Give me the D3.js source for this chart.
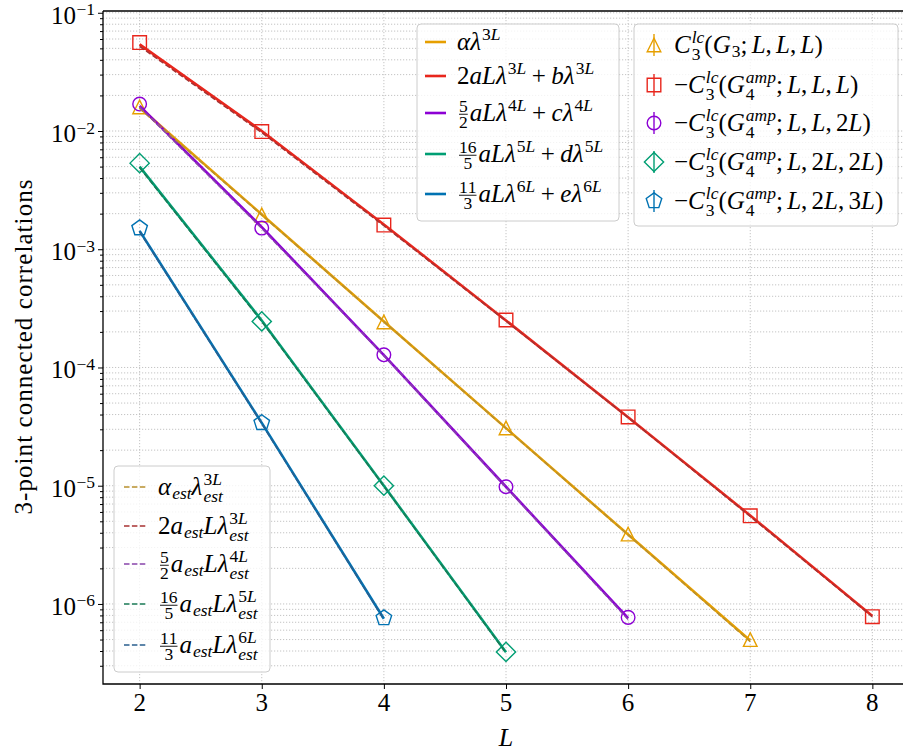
<!DOCTYPE html>
<html><head><meta charset="utf-8"><title>3-point connected correlations</title>
<script src="https://d3js.org/d3.v7.min.js"></script>
<style>
body { margin: 0; background: #fff; }
svg text { font-family: "Liberation Serif", serif; fill: #000; }
</style>
</head>
<body>
<svg id="chart" width="903" height="755"></svg>
<script>
// ---- data ----
const xTicks = [2, 3, 4, 5, 6, 7, 8];
const yTicks = [1e-1, 1e-2, 1e-3, 1e-4, 1e-5, 1e-6];
const yTickLabels = ["10^{-1}", "10^{-2}", "10^{-3}", "10^{-4}", "10^{-5}", "10^{-6}"];

const L_G3 = [2, 3, 4, 5, 6, 7];
const corr_G3 = [1.6e-2, 1.95e-3, 2.43e-4, 3.08e-5, 3.9e-6, 5.0e-7];
const fit_G3 = [1.58e-2, 1.97e-3, 2.45e-4, 3.07e-5, 3.86e-6, 4.9e-7];
const est_G3 = [1.55e-2, 1.95e-3, 2.44e-4, 3.05e-5, 3.84e-6, 4.8e-7];

const L_LLL = [2, 3, 4, 5, 6, 7, 8];
const corr_LLL = [5.6e-2, 9.9e-3, 1.6e-3, 2.52e-4, 3.82e-5, 5.56e-6, 7.8e-7];
const fit_LLL = [5.4e-2, 1.0e-2, 1.62e-3, 2.5e-4, 3.8e-5, 5.6e-6, 7.9e-7];
const est_LLL = [5.2e-2, 9.7e-3, 1.58e-3, 2.47e-4, 3.77e-5, 5.5e-6, 7.8e-7];

const L_LL2L = [2, 3, 4, 5, 6];
const corr_LL2L = [1.69e-2, 1.51e-3, 1.28e-4, 9.8e-6, 7.7e-7];
const fit_LL2L = [1.63e-2, 1.54e-3, 1.27e-4, 9.8e-6, 7.6e-7];
const est_LL2L = [1.6e-2, 1.5e-3, 1.26e-4, 9.7e-6, 7.4e-7];

const L_L2L2L = [2, 3, 4, 5];
const corr_L2L2L = [5.35e-3, 2.45e-4, 1.0e-5, 3.93e-7];
const fit_L2L2L = [5.0e-3, 2.5e-4, 1.0e-5, 3.9e-7];
const est_L2L2L = [4.9e-3, 2.45e-4, 9.9e-6, 3.85e-7];

const L_L2L3L = [2, 3, 4];
const corr_L2L3L = [1.51e-3, 3.4e-5, 7.6e-7];
const fit_L2L3L = [1.43e-3, 3.4e-5, 7.5e-7];
const est_L2L3L = [1.41e-3, 3.35e-5, 7.4e-7];

const fitLabels = [
  "\u03b1\u03bb^{3L}",
  "2aL\u03bb^{3L}+b\u03bb^{3L}",
  "\\frac{5}{2}aL\u03bb^{4L}+c\u03bb^{4L}",
  "\\frac{16}{5}aL\u03bb^{5L}+d\u03bb^{5L}",
  "\\frac{11}{3}aL\u03bb^{6L}+e\u03bb^{6L}"
];
const dataLabels = [
  "C^{lc}_{3}(G_{3}; L, L, L)",
  "-C^{lc}_{3}(G^{amp}_{4}; L, L, L)",
  "-C^{lc}_{3}(G^{amp}_{4}; L, L, 2L)",
  "-C^{lc}_{3}(G^{amp}_{4}; L, 2L, 2L)",
  "-C^{lc}_{3}(G^{amp}_{4}; L, 2L, 3L)"
];
const estLabels = [
  "\u03b1_{est}\u03bb^{3L}_{est}",
  "2a_{est}L\u03bb^{3L}_{est}",
  "\\frac{5}{2}a_{est}L\u03bb^{4L}_{est}",
  "\\frac{16}{5}a_{est}L\u03bb^{5L}_{est}",
  "\\frac{11}{3}a_{est}L\u03bb^{6L}_{est}"
];

const series = [
  {L: L_G3, v: corr_G3, fit: fit_G3, est: est_G3, color: "#E69F00", estColor: "#b8902e", marker: "triangle"},
  {L: L_LLL, v: corr_LLL, fit: fit_LLL, est: est_LLL, color: "#e8261c", estColor: "#a83232", marker: "square"},
  {L: L_LL2L, v: corr_LL2L, fit: fit_LL2L, est: est_LL2L, color: "#8c00d4", estColor: "#8844aa", marker: "circle"},
  {L: L_L2L2L, v: corr_L2L2L, fit: fit_L2L2L, est: est_L2L2L, color: "#009E73", estColor: "#1a7a55", marker: "diamond"},
  {L: L_L2L3L, v: corr_L2L3L, fit: fit_L2L3L, est: est_L2L3L, color: "#0072B2", estColor: "#2a5f8f", marker: "pentagon"}
];

// ---- layout ----
const svg = d3.select("#chart");
const plotLeft = 103, plotRight = 909, plotTop = 11, plotBottom = 684;

const x = d3.scaleLinear().domain([1.7, 8.3]).range([plotLeft, plotRight]);
const y = d3.scaleLog().domain([Math.pow(10, -6.677), Math.pow(10, -0.985)]).range([plotBottom, plotTop]);

const minorTicks = [];
for (let e = -7; e <= -1; e++) {
  for (let k = 2; k <= 9; k++) {
    const v = k * Math.pow(10, e);
    if (v > y.domain()[0] && v < y.domain()[1]) minorTicks.push(v);
  }
}

svg.append("clipPath").attr("id", "plot-clip")
  .append("rect").attr("x", plotLeft).attr("y", plotTop)
  .attr("width", plotRight - plotLeft).attr("height", plotBottom - plotTop);

// grid
const grid = svg.append("g").attr("clip-path", "url(#plot-clip)")
  .attr("stroke", "#bdbdbd").attr("stroke-width", 0.9).attr("stroke-dasharray", "1.2,1.8");
grid.selectAll(".hg").data(yTicks.concat(minorTicks)).join("line")
  .attr("x1", plotLeft).attr("x2", plotRight).attr("y1", d => y(d)).attr("y2", d => y(d));
grid.selectAll(".vg").data(xTicks).join("line")
  .attr("y1", plotTop).attr("y2", plotBottom).attr("x1", d => x(d)).attr("x2", d => x(d));

// ---- tiny TeX-ish text layout (one <text> per label, tspans inside) ----
function parseTex(s) {
  let i = 0;
  const out = [];
  function readGroup() {
    if (s[i] === "{") {
      let depth = 1, j = i + 1;
      while (depth) { if (s[j] === "{") depth++; else if (s[j] === "}") depth--; j++; }
      const g = s.slice(i + 1, j - 1);
      i = j;
      return g;
    }
    return s[i++];
  }
  while (i < s.length) {
    const c = s[i];
    if (s.startsWith("\\frac", i)) {
      i += 5;
      const n = readGroup(), d = readGroup();
      out.push({type: "frac", num: n, den: d});
    } else if (c === "^" || c === "_") {
      i++;
      const g = readGroup();
      out[out.length - 1][c === "^" ? "sup" : "sub"] = g;
    } else if (c === " ") {
      i++;
    } else if (c === "+" || c === "-" || c === "=") {
      i++;
      out.push({type: out.length ? "op" : "sym", ch: c === "-" ? "\u2212" : c, italic: false});
    } else if (c === "," || c === ";") {
      i++;
      out.push({type: "punct", ch: c});
    } else {
      i++;
      out.push({type: "sym", ch: c, italic: /[A-Za-z\u0370-\u03ff]/.test(c)});
    }
  }
  return out;
}

function span(ctx, str, x0, y0, size, italic) {
  const t = ctx.t.append("tspan").attr("x", x0).attr("y", y0)
    .attr("font-size", size).attr("font-style", italic ? "italic" : "normal").text(str);
  return t.node().getComputedTextLength();
}

function measureSeq(s, size) {
  const g = svg.append("g");
  const ctx = {g: g, t: g.append("text"), raise: 0.42};
  const w = drawSeq(ctx, s, 0, 0, size, true);
  g.remove();
  return w;
}

function drawSeq(ctx, s, x0, y0, size, script) {
  let cx = x0;
  parseTex(s).forEach(a => { cx += drawAtom(ctx, a, cx, y0, size, script); });
  return cx - x0;
}

function drawAtom(ctx, a, x0, y0, size, script) {
  if (a.type === "frac") {
    const fs = size * 0.7, pad = size * 0.08;
    const nw = measureSeq(a.num, fs), dw = measureSeq(a.den, fs);
    const w = Math.max(nw, dw);
    const barY = y0 - size * 0.27;
    drawSeq(ctx, a.num, x0 + pad + (w - nw) / 2, barY - size * 0.09, fs, true);
    drawSeq(ctx, a.den, x0 + pad + (w - dw) / 2, barY + size * 0.07 + fs * 0.66, fs, true);
    ctx.g.append("line").attr("x1", x0 + pad).attr("x2", x0 + pad + w)
      .attr("y1", barY).attr("y2", barY).attr("stroke", "#000").attr("stroke-width", 0.9);
    return w + 2 * pad;
  }
  if (a.type === "op") {
    const pad = script ? 0 : size * 0.22;
    return span(ctx, a.ch, x0 + pad, y0, size, false) + 2 * pad;
  }
  if (a.type === "punct") {
    return span(ctx, a.ch, x0, y0, size, false) + (script ? 0 : size * 0.17);
  }
  const w = span(ctx, a.ch, x0, y0, size, a.italic);
  if (!a.sup && !a.sub) return w;
  const ss = size * 0.7;
  const sx = x0 + w + (a.italic ? size * 0.04 : size * 0.02);
  let supW = 0, subW = 0;
  if (a.sup) supW = drawSeq(ctx, a.sup, sx, y0 - size * ctx.raise, ss, true);
  if (a.sub) subW = drawSeq(ctx, a.sub, sx, y0 + size * (a.sup ? 0.27 : 0.17), ss, true);
  return (sx - x0) + Math.max(supW, subW);
}

function drawTex(parent, s, x0, y0, size, anchor, raise) {
  const g = parent.append("g");
  const ctx = {g: g, t: g.append("text"), raise: raise || 0.42};
  const w = drawSeq(ctx, s, 0, 0, size, false);
  const dx = anchor === "end" ? -w : anchor === "middle" ? -w / 2 : 0;
  g.attr("transform", `translate(${x0 + dx},${y0})`);
  return g;
}

// ---- markers ----
function markerPath(type, r) {
  if (type === "square") return `M${-r},${-r}H${r}V${r}H${-r}Z`;
  if (type === "triangle") return `M0,${-r}L${r},${r}L${-r},${r}Z`;
  if (type === "diamond") { const d = r * Math.SQRT2; return `M0,${-d}L${d},0L0,${d}L${-d},0Z`; }
  if (type === "pentagon") {
    const pr = r * 1.2;
    const pts = d3.range(5).map(k => {
      const ang = -Math.PI / 2 + k * 2 * Math.PI / 5;
      return [pr * Math.cos(ang), pr * Math.sin(ang)];
    });
    return "M" + pts.map(p => p.join(",")).join("L") + "Z";
  }
  return `M${r},0A${r},${r} 0 1,1 ${-r},0A${r},${r} 0 1,1 ${r},0Z`;
}
const mr = 6.8;

// ---- marks ----
const plot = svg.append("g").attr("clip-path", "url(#plot-clip)");
series.forEach(s => {
  plot.append("g").selectAll("path").data(s.L.map((l, i) => [l, s.v[i]])).join("path")
    .attr("d", markerPath(s.marker, mr))
    .attr("transform", d => `translate(${x(d[0])},${y(d[1])})`)
    .attr("fill", "none").attr("stroke", s.color).attr("stroke-width", 1.4);
});
const line = d3.line().x(d => x(d[0])).y(d => y(d[1]));
series.forEach(s => {
  plot.append("path").datum(s.L.map((l, i) => [l, s.fit[i]]))
    .attr("d", line).attr("fill", "none").attr("stroke", s.color).attr("stroke-width", 2.6);
});
series.forEach(s => {
  plot.append("path").datum(s.L.map((l, i) => [l, s.est[i]]))
    .attr("d", line).attr("fill", "none").attr("stroke", s.estColor)
    .attr("stroke-width", 1.5).attr("stroke-dasharray", "5.5,2.4");
});

// ---- axes ----
const xAxis = svg.append("g").attr("transform", `translate(0,${plotBottom})`)
  .call(d3.axisBottom(x).tickValues(xTicks).tickSize(5).tickFormat(""));
const yAxis = svg.append("g").attr("transform", `translate(${plotLeft},0)`)
  .call(d3.axisLeft(y).tickValues(yTicks).tickSize(5).tickFormat(""));
const yMinor = svg.append("g").attr("transform", `translate(${plotLeft},0)`)
  .call(d3.axisLeft(y).tickValues(minorTicks).tickSize(3).tickFormat(""));
[xAxis, yAxis, yMinor].forEach(a => {
  a.select(".domain").remove();
  a.selectAll(".tick line").attr("stroke", "#000").attr("stroke-width", 1);
});
svg.append("path").attr("d", `M${plotLeft},${plotTop}V${plotBottom}H${plotRight}`)
  .attr("fill", "none").attr("stroke", "#000").attr("stroke-width", 1.3);
svg.append("line").attr("x1", plotLeft).attr("x2", plotRight).attr("y1", plotTop).attr("y2", plotTop)
  .attr("stroke", "#000").attr("stroke-width", 1.3);

xTicks.forEach(t => {
  svg.append("text").attr("x", x(t)).attr("y", 711).attr("text-anchor", "middle")
    .attr("font-size", 25).text(t);
});
yTicks.forEach((t, i) => drawTex(svg, yTickLabels[i], 95, y(t) + 11, 25, "end", 0.34));

svg.append("text").attr("x", 506).attr("y", 746).attr("text-anchor", "middle")
  .attr("font-size", 26).attr("font-style", "italic").text("L");
svg.append("text").attr("transform", "translate(32,347) rotate(-90)")
  .attr("text-anchor", "middle").attr("font-size", 25)
  .attr("textLength", 335).attr("lengthAdjust", "spacing")
  .text("3-point connected correlations");

// ---- legends ----
function legendBox(x0, y0, w, h) {
  svg.append("rect").attr("x", x0).attr("y", y0).attr("width", w).attr("height", h).attr("rx", 4)
    .attr("fill", "#fff").attr("fill-opacity", 0.8).attr("stroke", "#cccccc").attr("stroke-width", 1);
}
const legFont = 25;

legendBox(417, 24, 202, 197);
const rows1 = [42, 76, 113, 154, 194];
series.forEach((s, i) => {
  svg.append("line").attr("x1", 425).attr("x2", 446).attr("y1", rows1[i]).attr("y2", rows1[i])
    .attr("stroke", s.color).attr("stroke-width", 2.6);
  drawTex(svg, fitLabels[i], 457, rows1[i] + 8, legFont, "start");
});

legendBox(634, 24, 264, 202);
const rows2 = [45, 85, 123, 162, 201];
series.forEach((s, i) => {
  svg.append("line").attr("x1", 654).attr("x2", 654).attr("y1", rows2[i] - 11).attr("y2", rows2[i] + 11)
    .attr("stroke", s.color).attr("stroke-width", 1.4);
  svg.append("path").attr("d", markerPath(s.marker, mr))
    .attr("transform", `translate(654,${rows2[i]})`)
    .attr("fill", "none").attr("stroke", s.color).attr("stroke-width", 1.4);
  drawTex(svg, dataLabels[i], 674, rows2[i] + 8, legFont, "start");
});

legendBox(114, 466, 156, 206);
const rows3 = [487, 526, 564, 604, 645];
series.forEach((s, i) => {
  svg.append("line").attr("x1", 124).attr("x2", 146).attr("y1", rows3[i]).attr("y2", rows3[i])
    .attr("stroke", s.estColor).attr("stroke-width", 1.5).attr("stroke-dasharray", "5.5,2.4");
  drawTex(svg, estLabels[i], 158, rows3[i] + 8, legFont, "start");
});
</script>
</body></html>
